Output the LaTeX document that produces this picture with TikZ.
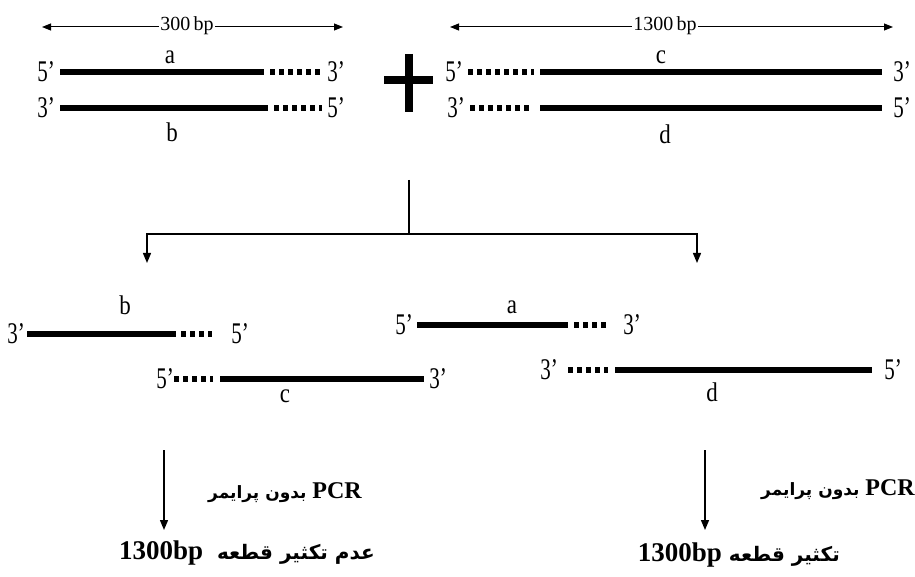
\documentclass[tikz,border=0pt]{standalone}
\usepackage{fontspec}
\setmainfont{Liberation Serif}
\newfontfamily\condfont[FakeStretch=0.7]{Liberation Serif}
\newfontfamily\letterfont[FakeStretch=0.85]{Liberation Serif}
\newfontfamily\arabicfont[Script=Arabic]{DejaVu Sans}
\TeXXeTstate=1
\usetikzlibrary{arrows.meta}
\tikzset{
  solidstrand/.style={line width=5.5pt},
  dotstrand/.style={line width=5.5pt, dash pattern=on 4.5pt off 4.5pt},
  endlbl/.style={inner sep=0pt, font=\condfont\fontsize{30}{30}\selectfont},
  letterlbl/.style={inner sep=0pt, font=\letterfont\fontsize{27}{27}\selectfont},
  sizelbl/.style={inner sep=1.5pt, fill=white, font=\fontsize{20}{20}\selectfont},
  dimarrow/.style={line width=1pt, {Triangle[length=9pt,width=7pt]}-{Triangle[length=9pt,width=7pt]}},
  flowarrow/.style={line width=1.4pt, -{Triangle[length=10pt,width=8pt]}},
  flowline/.style={line width=1.4pt},
  pcrlbl/.style={inner sep=0pt, anchor=east},
}
\newcommand{\pcrtext}{{\arabicfont\bfseries\fontsize{17}{20}\selectfont\beginR\beginL{\rmfamily\bfseries\fontsize{24}{24}\selectfont PCR}\endL{}\ بدون پرایمر\endR}}
\newcommand{\bpbold}{{\rmfamily\bfseries\fontsize{27}{27}\selectfont 1300bp}}
\begin{document}
\begin{tikzpicture}[x=1pt,y=-1pt]
\useasboundingbox (0,0) rectangle (915,577);
% ---------- top left duplex (300 bp) ----------
\coordinate (d1l) at (42,27); \coordinate (d1r) at (343,27);
\draw[dimarrow] (d1l) -- (d1r);
\node[sizelbl] (s300) at (187,26) {300\,bp};
\node[endlbl] (a5) at (46,72) {5’};
\node[endlbl] (a3) at (336,72) {3’};
\coordinate (aS) at (60,72); \coordinate (aM) at (264,72); \coordinate (aE) at (320,72);
\draw[solidstrand] (aS) -- (aM);
\draw[dotstrand] ([xshift=6pt]aM) -- (aE);
\node[letterlbl] (la) at (170,57) {a};
\node[endlbl] (b3) at (46,108) {3’};
\node[endlbl] (b5) at (336,108) {5’};
\coordinate (bS) at (60,108); \coordinate (bM) at (268,108); \coordinate (bE) at (322,108);
\draw[solidstrand] (bS) -- (bM);
\draw[dotstrand] ([xshift=6pt]bM) -- (bE);
\node[letterlbl] (lb) at (172,132) {b};
% ---------- plus ----------
\coordinate (pl) at (384,80); \coordinate (pr) at (433,80);
\coordinate (pt) at (409,54); \coordinate (pb) at (409,112);
\draw[line width=8pt] (pl) -- (pr);
\draw[line width=8pt] (pt) -- (pb);
% ---------- top right duplex (1300 bp) ----------
\coordinate (d2l) at (450,27); \coordinate (d2r) at (893,27);
\draw[dimarrow] (d2l) -- (d2r);
\node[sizelbl] (s1300) at (665,26) {1300\,bp};
\node[endlbl] (c5) at (454,72) {5’};
\node[endlbl] (c3) at (902,72) {3’};
\coordinate (cS) at (468,72); \coordinate (cM) at (534,72); \coordinate (cE) at (882,72);
\draw[dotstrand] (cS) -- (cM);
\draw[solidstrand] ([xshift=6pt]cM) -- (cE);
\node[letterlbl] (lc) at (661,57) {c};
\node[endlbl] (d3) at (456,108) {3’};
\node[endlbl] (d5) at (902,108) {5’};
\coordinate (dS) at (470,108); \coordinate (dM) at (530,108); \coordinate (dE) at (882,108);
\draw[dotstrand] (dS) -- (dM);
\draw[solidstrand] ([xshift=10pt]dM) -- (dE);
\node[letterlbl] (ld) at (665,134) {d};
% ---------- branching ----------
\coordinate (top) at (409,180);
\coordinate (junc) at (409,234);
\coordinate (brL) at (147,263);
\coordinate (brR) at (697,263);
\draw[flowline] (top) -- (junc);
\draw[flowarrow] (junc) -| (brL);
\draw[flowarrow] (junc) -| (brR);
% ---------- middle left ----------
\node[endlbl] (mb3) at (16,334) {3’};
\coordinate (mbS) at (27,334); \coordinate (mbM) at (176,334); \coordinate (mbE) at (212,334);
\draw[solidstrand] (mbS) -- (mbM);
\draw[dotstrand] ([xshift=5pt]mbM) -- (mbE);
\node[endlbl] (mb5) at (240,334) {5’};
\node[letterlbl] (lmb) at (125,305) {b};
\node[endlbl] (mc5) at (165,379) {5’};
\coordinate (mcS) at (174,379); \coordinate (mcM) at (213,379); \coordinate (mcE) at (424,379);
\draw[dotstrand] (mcS) -- (mcM);
\draw[solidstrand] ([xshift=7pt]mcM) -- (mcE);
\node[endlbl] (mc3) at (438,379) {3’};
\node[letterlbl] (lmc) at (285,396) {c};
% ---------- middle right ----------
\node[endlbl] (ma5) at (404,325) {5’};
\coordinate (maS) at (417,325); \coordinate (maM) at (568,325); \coordinate (maE) at (607,325);
\draw[solidstrand] (maS) -- (maM);
\draw[dotstrand] ([xshift=6pt]maM) -- (maE);
\node[endlbl] (ma3) at (632,325) {3’};
\node[letterlbl] (lma) at (512,307) {a};
\node[endlbl] (md3) at (549,370) {3’};
\coordinate (mdS) at (568,370); \coordinate (mdM) at (608,370); \coordinate (mdE) at (872,370);
\draw[dotstrand] (mdS) -- (mdM);
\draw[solidstrand] ([xshift=7pt]mdM) -- (mdE);
\node[endlbl] (md5) at (893,370) {5’};
\node[letterlbl] (lmd) at (712,392) {d};
% ---------- bottom ----------
\coordinate (bl1) at (164,450); \coordinate (bl2) at (164,530);
\draw[flowarrow] (bl1) -- (bl2);
\node[pcrlbl] (pcrL) at (362,493) {\pcrtext};
\node[pcrlbl] (resL) at (375,553) {\arabicfont\bfseries\fontsize{20}{22}\selectfont\beginR عدم تکثیر قطعه\ \ \beginL\bpbold\endL\endR};
\coordinate (br1) at (705,450); \coordinate (br2) at (705,530);
\draw[flowarrow] (br1) -- (br2);
\node[pcrlbl] (pcrR) at (915,490) {\pcrtext};
\node[pcrlbl] (resR) at (840,555) {\arabicfont\bfseries\fontsize{20}{22}\selectfont\beginR تکثیر قطعه\ \beginL\bpbold\endL\endR};
\end{tikzpicture}
\end{document}
